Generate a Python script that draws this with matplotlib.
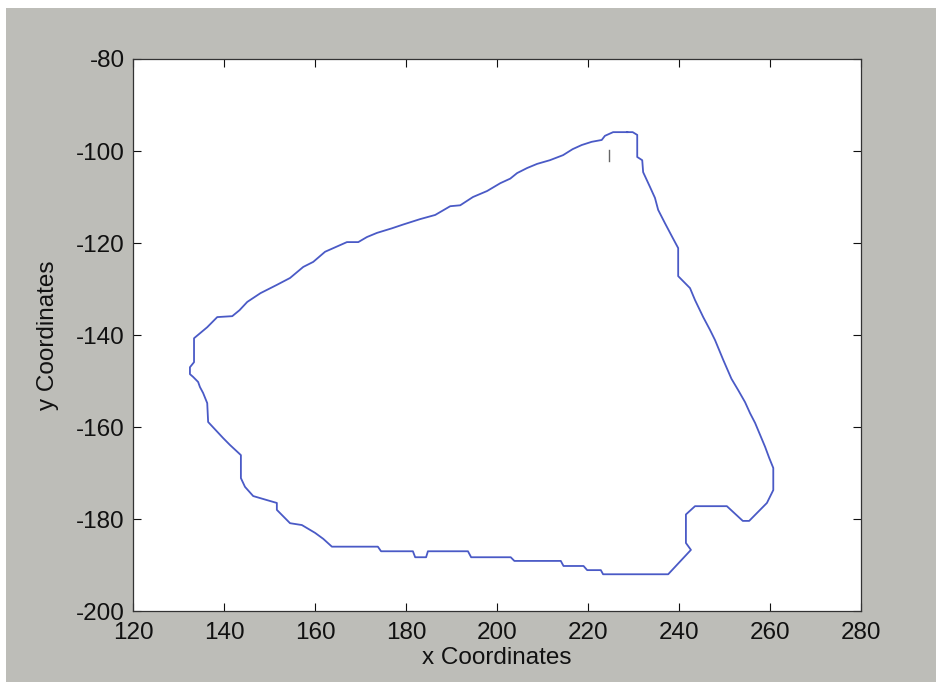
import matplotlib
matplotlib.use("Agg")
import matplotlib.pyplot as plt
from matplotlib.patches import Rectangle

plt.rcParams['font.family'] = ['Liberation Sans', 'DejaVu Sans']
plt.rcParams['axes.unicode_minus'] = False

# boundary trace of the region, counter-clockwise from the top vertex
bx = [228.6, 225.5, 223.7, 223.0, 220.8, 218.6, 216.6, 214.5, 211.6, 208.8,
      206.6, 204.4, 202.9, 200.7, 197.8, 194.7, 191.9, 189.7, 186.4, 183.1,
      179.3, 176.9, 173.6, 171.4, 169.5, 167.0, 162.2, 159.6, 157.4, 154.5,
      151.6, 148.0, 145.1, 143.4, 141.8, 138.5, 136.3, 133.4, 133.4, 132.5,
      132.5, 133.2, 134.3, 134.7, 135.4, 136.3, 136.5, 139.8, 141.3, 143.7,
      143.7, 144.6, 146.4, 149.5, 151.6, 151.6, 154.5, 157.1, 160.0, 161.8,
      163.7, 173.8, 174.5, 181.5, 182.0, 184.4, 184.8, 193.6, 194.3, 203.0,
      203.8, 214.0, 214.6, 219.0, 219.8, 222.8, 223.3, 237.6, 242.6, 241.5,
      241.5, 243.5, 250.5, 254.0, 255.4, 257.1, 259.3, 260.7, 260.7, 259.8,
      258.9, 257.8, 256.7, 255.6, 254.5, 253.0, 251.5, 249.7, 247.9, 246.8,
      245.3, 243.5, 242.4, 239.8, 239.8, 238.5, 236.9, 235.4, 234.7, 233.6,
      232.1, 231.9, 230.8, 230.8, 229.8, 228.6]
by = [-95.9, -95.9, -96.7, -97.6, -98.0, -98.7, -99.6, -100.9, -102.0, -102.8,
      -103.7, -104.8, -106.0, -107.0, -108.7, -110.0, -111.8, -112.0, -113.9, -114.8,
      -116.0, -116.8, -117.8, -118.7, -119.8, -119.8, -121.9, -124.1, -125.2, -127.6,
      -129.1, -130.9, -132.8, -134.6, -135.9, -136.1, -138.3, -140.7, -145.9, -147.0,
      -148.5, -149.1, -150.2, -151.3, -152.6, -154.8, -158.9, -162.4, -163.9, -166.1,
      -171.1, -173.0, -175.0, -175.9, -176.5, -178.0, -180.9, -181.3, -183.0, -184.3,
      -186.0, -186.0, -187.0, -187.0, -188.3, -188.3, -187.0, -187.0, -188.3, -188.3,
      -189.1, -189.1, -190.2, -190.2, -191.1, -191.1, -192.0, -192.0, -186.7, -185.2,
      -179.0, -177.2, -177.2, -180.4, -180.4, -178.7, -176.5, -173.7, -168.9, -166.7,
      -164.3, -161.7, -159.1, -157.0, -154.6, -152.0, -149.5, -145.4, -141.1, -138.9,
      -136.1, -132.4, -129.8, -127.2, -121.1, -118.7, -115.7, -112.8, -110.2, -107.8,
      -104.6, -102.0, -101.3, -96.5, -95.9, -95.9]

# stray mark inside the region
mark_x = [224.6, 224.6]
mark_y = [-99.8, -102.2]

xticks = [120, 140, 160, 180, 200, 220, 240, 260, 280]
yticks = [-200, -180, -160, -140, -120, -100, -80]

fig = plt.figure(figsize=(9.37, 6.82), dpi=100, facecolor='white')
fig.patches.append(Rectangle((0.006, 0), 1.0, 0.988, transform=fig.transFigure,
                             facecolor='#bdbdb8', edgecolor='none', zorder=-1))

ax = fig.add_axes([0.142, 0.104, 0.777, 0.8095])
ax.set_facecolor('white')
ax.plot(bx, by, color='#4a5ac6', lw=1.3)
ax.plot(mark_x, mark_y, color='#666666', lw=1.0)

ax.set_xlim(120, 280)
ax.set_ylim(-200, -80)
ax.set_xticks(xticks)
ax.set_yticks(yticks)
ax.tick_params(direction='in', length=5.5, width=0.8, top=True, right=True,
               labelsize=17.5, colors='#111111')
ax.tick_params(axis='x', pad=8)
ax.tick_params(axis='y', pad=6)
for s in ax.spines.values():
    s.set_linewidth(0.9)
    s.set_color('#333333')

ax.set_xlabel('x Coordinates', fontsize=17.5, labelpad=2, color='#111111')
ax.set_ylabel('y Coordinates', fontsize=17.5, labelpad=12, color='#111111')

fig.savefig('out.png', dpi=100, facecolor=fig.get_facecolor())
